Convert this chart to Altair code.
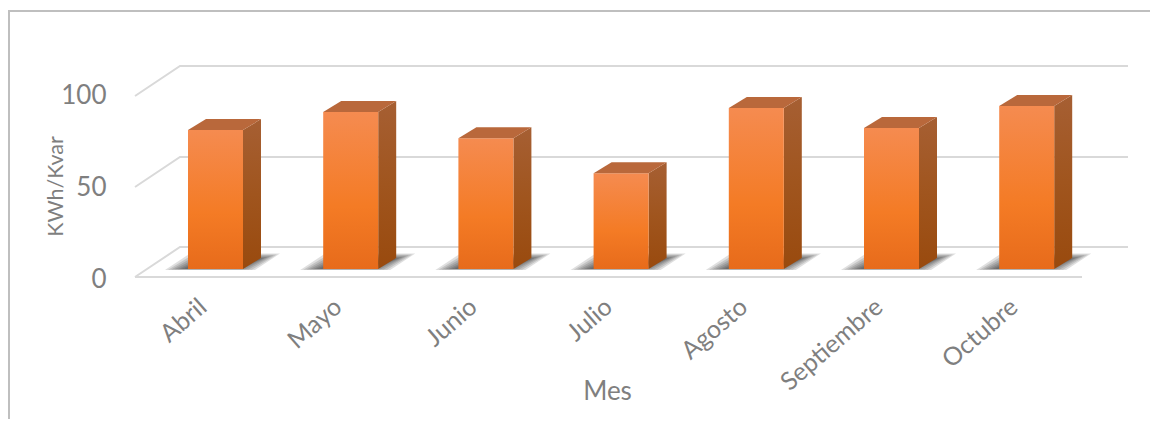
import altair as alt
import pandas as pd

months = ["Abril", "Mayo", "Junio", "Julio", "Agosto", "Septiembre", "Octubre"]
values = [75.5, 85.3, 71, 52, 87.5, 76.6, 88.6]
wall_levels = [16.3, 65.2, 114.67]

PXU = 135.2          # px per category
PXV = 1.84           # px per y unit
W, H = 993, 211
XMAX = W / PXU
YMAX = H / PXV
BASE = 8 / PXV       # bars stand a little way into the floor
BAR_L = 53 / PXU
BAR_W = 55 / PXU
DX = 18 / PXU
DY = 11 / PXV
FONT = "Lato"
GREY = "#7f7f7f"
LINE = "#D9D9D9"

def grad(stops):
    return alt.LinearGradient(gradient="linear", x1=0, x2=0, y1=0, y2=1,
                              stops=[alt.GradientStop(offset=o, color=c) for o, c in stops])

xs = alt.Scale(domain=[0, XMAX], nice=False, zero=False)
ys = alt.Scale(domain=[0, YMAX], nice=False, zero=False)
label_expr = "[" + ",".join(f"'{m}'" for m in months) + "][floor(datum.value)]"
x_axis = alt.Axis(
    values=[i + 0.5 for i in range(len(months))], labelExpr=label_expr,
    title="Mes", titleFont=FONT, titleFontSize=26, titleFontWeight="normal", titleColor=GREY,
    titleX=472, titleY=101, titleAnchor="middle",
    labelFont=FONT, labelFontSize=25, labelColor=GREY, labelAngle=319, labelAlign="right",
    labelBaseline="middle", labelPadding=26, domain=False, ticks=False, grid=False,
    labelOverlap=False, labelBound=False, labelFlush=False)
y_axis = alt.Axis(
    values=[0, 50, 100], title="KWh/Kvar", titleFont=FONT, titleFontSize=21.5,
    titleFontWeight="normal", titleColor=GREY, titleX=-68, titleY=120, titleAnchor="middle",
    labelFont=FONT, labelFontSize=26, labelColor=GREY, labelPadding=29, labelOffset=2,
    domain=False, ticks=False, grid=False)
X = alt.X("x:Q", scale=xs, axis=x_axis)
Y = alt.Y("y:Q", scale=ys, axis=y_axis, stack=None)

# walls
wall_rows = []
for i, lv in enumerate(wall_levels):
    wall_rows += [
        dict(id=i, o=0, x=0, y=lv - 16.3),
        dict(id=i, o=1, x=45 / PXU, y=lv),
        dict(id=i, o=2, x=XMAX, y=lv),
    ]
wall_rows += [dict(id=9, o=0, x=0, y=0), dict(id=9, o=1, x=947 / PXU, y=0)]
walls = alt.Chart(pd.DataFrame(wall_rows)).mark_line(color=LINE, strokeWidth=2).encode(
    x=X, y=Y, detail="id:N", order="o:Q")

# shadows, nested for a soft edge
sh_rows = []
layers = 10
for i, m in enumerate(months):
    l = i + BAR_L
    for k in range(layers):
        ins = k * 3.2 / PXU
        vin = k * 0.9 / PXV
        xl = l - 23 / PXU + ins
        xr = l + BAR_W + 12 / PXU - ins
        sh = 25 / PXU
        lo = BASE - 0.5 + k * 0.1
        hi = BASE + 15.5 / PXV - vin
        key = f"{i}-{k}"
        sh_rows += [
            dict(id=key, x=xl, y=lo, y2=lo),
            dict(id=key, x=xl + sh, y=lo, y2=hi),
            dict(id=key, x=xr, y=lo, y2=hi),
            dict(id=key, x=xr + sh, y=hi, y2=hi),
        ]
shadows = alt.Chart(pd.DataFrame(sh_rows)).mark_area(color="#1a1a1a", opacity=0.14, interpolate="linear").encode(
    x=X, y=Y, y2="y2:Q", detail="id:N")

# side faces
side_rows, top_rows, front_rows = [], [], []
for i, (m, v) in enumerate(zip(months, values)):
    l = i + BAR_L
    r = l + BAR_W
    t = BASE + v
    side_rows += [dict(id=i, x=r, y=BASE, y2=t), dict(id=i, x=r + DX, y=BASE + DY, y2=t + DY)]
    top_rows += [
        dict(id=i, x=l, y=t, y2=t),
        dict(id=i, x=l + DX, y=t, y2=t + DY),
        dict(id=i, x=r, y=t, y2=t + DY),
        dict(id=i, x=r + DX, y=t + DY, y2=t + DY),
    ]
    front_rows.append(dict(x=l, x2=r, y=BASE, y2=t))

sides = alt.Chart(pd.DataFrame(side_rows)).mark_area(
    color=grad([(0, "#A65F33"), (0.5, "#A0551E"), (1, "#994A0E")]), interpolate="linear"
).encode(x=X, y=Y, y2="y2:Q", detail="id:N")

tops = alt.Chart(pd.DataFrame(top_rows)).mark_area(color="#B9683B", interpolate="linear").encode(
    x=X, y=Y, y2="y2:Q", detail="id:N")

fronts = alt.Chart(pd.DataFrame(front_rows)).mark_rect(
    color=grad([(0, "#F58B50"), (0.6, "#F47B25"), (1, "#E76B1B")])
).encode(x=X, x2="x2:Q", y=Y, y2="y2:Q")

# chart frame
frame_top = alt.Chart(pd.DataFrame({"a": [0]})).mark_rule(color="#BFBFBF", strokeWidth=2).encode(
    x=alt.value(-127), x2=alt.value(1015), y=alt.value(-55))
frame_left = alt.Chart(pd.DataFrame({"a": [0]})).mark_rule(color="#BFBFBF", strokeWidth=2).encode(
    x=alt.value(-126), y=alt.value(-55), y2=alt.value(353))

chart = alt.layer(walls, shadows, sides, fronts, tops, frame_top, frame_left).resolve_scale(
    x="shared", y="shared"
).properties(
    width=W, height=H, background="white",
    padding={"left": 127, "top": 58, "right": 22, "bottom": 142},
    autosize=alt.AutoSizeParams(type="none"),
).configure_view(stroke=None)

chart.save("out.html", embed_options={"renderer": "svg", "actions": False})
